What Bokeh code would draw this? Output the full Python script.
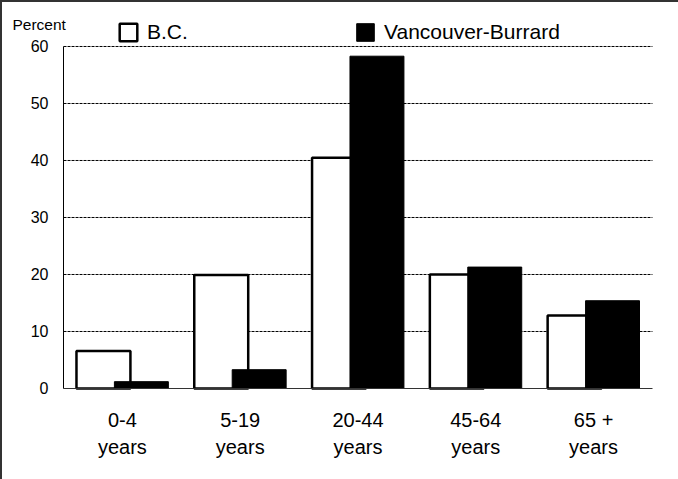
import numpy as np
from bokeh.plotting import figure
from bokeh.models import (ColumnDataSource, Range1d, FixedTicker,
                          Legend, LegendItem, Label)
from bokeh.transform import dodge
from bokeh.embed import file_html
from bokeh.resources import INLINE

# ---- data ----
categories = ["0-4\nyears", "5-19\nyears", "20-44\nyears", "45-64\nyears", "65 +\nyears"]
bc_values = [6.6, 19.9, 40.5, 20.0, 12.8]
vb_values = [1.2, 3.3, 58.3, 21.3, 15.4]
y_ticks = [0, 10, 20, 30, 40, 50, 60]
series_names = ["B.C.", "Vancouver-Burrard"]

FONT = "Liberation Sans"

n = len(categories)
centers = (np.arange(n) + 0.5).tolist()
src = ColumnDataSource(dict(xc=centers, bc=bc_values, vb=vb_values))

# the frame covers the whole canvas so no text is clipped; axes are fixed at 0
p = figure(width=678, height=479, output_backend="svg", toolbar_location=None,
           x_range=Range1d(-0.535, 5.221), y_range=Range1d(-15.965, 68.07),
           min_border_left=0, min_border_right=0, min_border_top=0,
           min_border_bottom=0)
p.styles = {"box-shadow": "inset 2px 2px 0 #333"}
p.border_fill_color = None
p.background_fill_color = None
p.outline_line_color = None

# dashed horizontal reference lines at the tick values
grid_y = y_ticks[1:]
p.segment(x0=[0] * len(grid_y), x1=[n] * len(grid_y), y0=grid_y, y1=grid_y,
          line_color="black", line_width=1, line_dash="3 1")

r_bc = p.vbar(x=dodge("xc", -0.161), top="bc", width=0.458,
              source=src, fill_color="white", line_color="black", line_width=2.5)
r_vb = p.vbar(x=dodge("xc", 0.161), top="vb", width=0.458,
              source=src, fill_color="black", line_color="black", line_width=1)

# x axis drawn at y = 0
p.xaxis.fixed_location = 0
p.xaxis.ticker = FixedTicker(ticks=centers)
p.xaxis.major_label_overrides = {c: lab for c, lab in zip(centers, categories)}
p.xaxis.bounds = (0, n)
p.xaxis.axis_line_color = "#333333"
p.xaxis.axis_line_width = 1
p.xaxis.major_tick_line_color = None
p.xaxis.minor_tick_line_color = None
p.xaxis.major_label_text_font = FONT
p.xaxis.major_label_text_font_size = "20px"
p.xaxis.major_label_text_color = "black"
p.xaxis.major_label_standoff = 15

# y axis drawn at x = 0
p.yaxis.fixed_location = 0
p.yaxis.bounds = (0, 60)
p.yaxis.ticker = FixedTicker(ticks=y_ticks)
p.yaxis.axis_line_color = "black"
p.yaxis.major_tick_line_color = None
p.yaxis.minor_tick_line_color = None
p.yaxis.major_label_text_font = FONT
p.yaxis.major_label_text_font_size = "16px"
p.yaxis.major_label_text_color = "black"
p.yaxis.major_label_standoff = 9

p.xgrid.grid_line_color = None
p.ygrid.grid_line_color = None

# legends (two single-item legends), positions in screen px from frame bottom-left
for name, rend, loc in [(series_names[0], r_bc, (117, 435)),
                        (series_names[1], r_vb, (354, 435))]:
    lg = Legend(items=[LegendItem(label=name, renderers=[rend])],
                location=loc, orientation="horizontal",
                glyph_width=22, glyph_height=22, label_standoff=8,
                padding=0, margin=0, spacing=0,
                border_line_color=None, background_fill_alpha=0,
                label_text_font=FONT, label_text_font_size="21px",
                label_text_color="black")
    p.add_layout(lg, "center")

p.add_layout(Label(x=12, y=455, x_units="screen", y_units="screen",
                   text="Percent", text_font=FONT, text_font_size="15.5px",
                   text_color="black", text_baseline="alphabetic"))

open("out.html", "w").write(file_html(p, INLINE))
